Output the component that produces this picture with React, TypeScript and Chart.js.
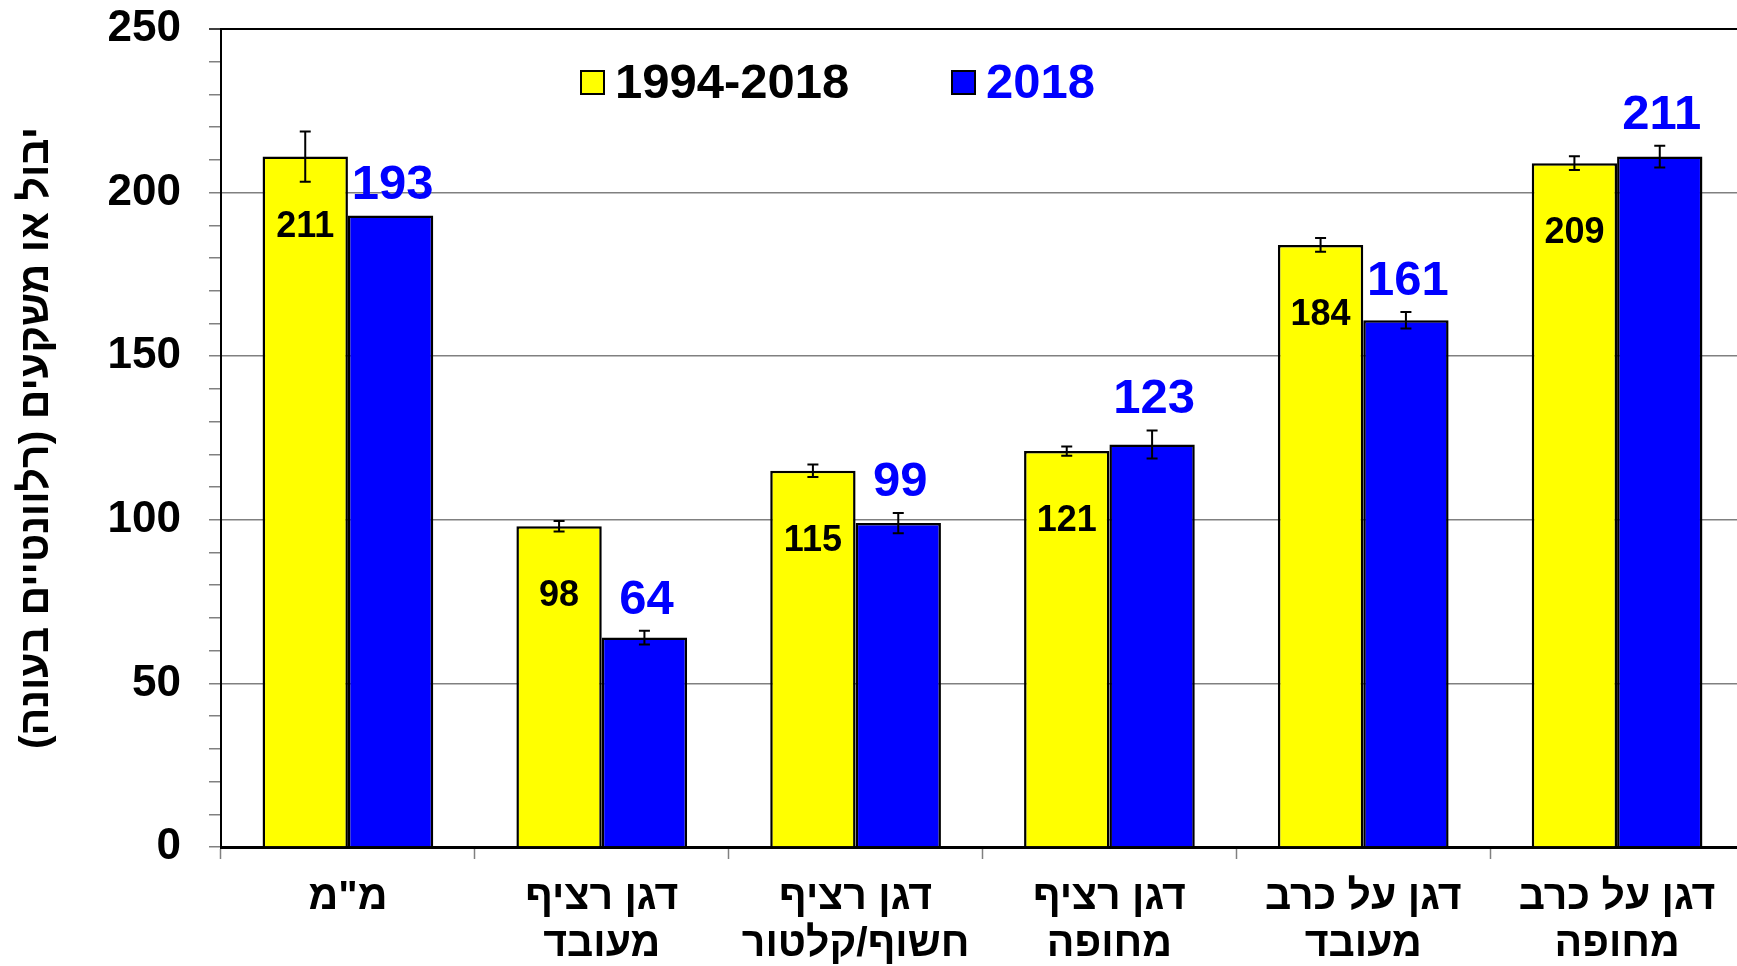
import React, { useEffect, useRef } from "react";
import { Chart, registerables } from "chart.js";

Chart.register(...registerables);

// ---------- data ----------
const categories: string[][] = [
  ["מ\"מ"],
  ["דגן רציף", "מעובד"],
  ["דגן רציף", "חשוף/קלטור"],
  ["דגן רציף", "מחופה"],
  ["דגן על כרב", "מעובד"],
  ["דגן על כרב", "מחופה"],
];
const seriesNames = ["1994-2018", "2018"];
const longTermValues = [211, 98, 115, 121, 184, 209];
const longTermErrors = [7.7, 1.6, 1.9, 1.4, 2.1, 2.1];
const year2018Values = [193, 64, 99, 123, 161, 211];
const year2018Errors = [0, 2.1, 3.1, 4.3, 2.5, 3.3];
const yMin = 0;
const yMax = 250;
const yMinorStep = 10;
const yMajorStep = 50;
const yTitle = "\u200Fיבול או משקעים (רלוונטיים בעונה)\u200F";

// ---------- style ----------
const FONT = '"Liberation Sans", Arial, Helvetica, sans-serif';
const YELLOW = "#FFFF00";
const BLUE = "#0000FF";
const GRID = "#808080";

const overlayPlugin = {
  id: "overlay",
  afterDatasetsDraw(chart: any) {
    const ctx: CanvasRenderingContext2D = chart.ctx;
    const ys = chart.scales.y;
    const errs = [longTermErrors, year2018Errors];
    chart.data.datasets.forEach((ds: any, di: number) => {
      const meta = chart.getDatasetMeta(di);
      meta.data.forEach((bar: any, i: number) => {
        const v = ds.data[i] as number;
        const e = errs[di][i];
        ctx.save();
        if (e > 0) {
          const yt = ys.getPixelForValue(v + e);
          const yb = ys.getPixelForValue(v - e);
          ctx.strokeStyle = "#000";
          ctx.lineWidth = 2;
          ctx.beginPath();
          ctx.moveTo(bar.x, yt);
          ctx.lineTo(bar.x, yb);
          ctx.moveTo(bar.x - 5.5, yt);
          ctx.lineTo(bar.x + 5.5, yt);
          ctx.moveTo(bar.x - 5.5, yb);
          ctx.lineTo(bar.x + 5.5, yb);
          ctx.stroke();
        }
        ctx.textAlign = "center";
        if (di === 0) {
          ctx.font = `bold 36px ${FONT}`;
          ctx.fillStyle = "#000";
          ctx.textBaseline = "middle";
          ctx.fillText(String(v), bar.x, bar.y + 70);
        } else {
          ctx.font = `bold 49px ${FONT}`;
          ctx.fillStyle = BLUE;
          ctx.textBaseline = "alphabetic";
          const top = ys.getPixelForValue(v + e);
          ctx.fillText(String(v), bar.x + 2, top - 17);
        }
        ctx.restore();
      });
    });

    // legend inside plot area
    const area = chart.chartArea;
    const ly = area.top + 54;
    const items = [
      { x: area.left + 360, fill: YELLOW, color: "#000", text: seriesNames[0] },
      { x: area.left + 731, fill: BLUE, color: BLUE, text: seriesNames[1] },
    ];
    ctx.save();
    items.forEach((it) => {
      ctx.fillStyle = it.fill;
      ctx.fillRect(it.x, ly - 12, 23, 23);
      ctx.strokeStyle = "#000";
      ctx.lineWidth = 2;
      ctx.strokeRect(it.x, ly - 12, 23, 23);
      ctx.font = `bold 49px ${FONT}`;
      ctx.fillStyle = it.color;
      ctx.textAlign = "left";
      ctx.textBaseline = "middle";
      ctx.fillText(it.text, it.x + 34, ly + 1);
    });
    ctx.restore();
  },
};

export default function App() {
  const ref = useRef<HTMLCanvasElement | null>(null);

  useEffect(() => {
    if (!ref.current) return;
    const chart = new Chart(ref.current, {
      type: "bar",
      data: {
        labels: categories,
        datasets: [
          {
            label: seriesNames[0],
            data: longTermValues,
            backgroundColor: YELLOW,
            borderColor: "#000",
            borderWidth: 2.5,
          },
          {
            label: seriesNames[1],
            data: year2018Values,
            backgroundColor: BLUE,
            borderColor: "#000",
            borderWidth: 2.5,
          },
        ],
      },
      options: {
        responsive: false,
        animation: false,
        layout: { padding: { top: 29, left: 0, right: 8, bottom: 0 } },
        datasets: {
          bar: { categoryPercentage: 0.6725, barPercentage: 1 },
        },
        plugins: {
          legend: { display: false },
          tooltip: { enabled: false },
          title: { display: false },
        },
        scales: {
          x: {
            afterFit: (s: any) => {
              s.height = 119;
              s.paddingLeft = 0;
              s.paddingRight = 0;
            },
            grid: {
              drawOnChartArea: false,
              tickLength: 12,
              tickColor: GRID,
              tickWidth: 1.5,
            },
            border: { color: "#000", width: 3 },
            ticks: {
              color: "#000",
              padding: 16,
              font: { family: FONT, size: 41, weight: "bold", lineHeight: 1.13 },
              autoSkip: false,
              maxRotation: 0,
            },
          },
          y: {
            min: yMin,
            max: yMax,
            afterFit: (s: any) => {
              s.width = 221;
              s.paddingTop = 0;
              s.paddingBottom = 0;
            },
            border: { color: "#000", width: 2 },
            grid: {
              tickLength: 12,
              lineWidth: (c: any) => (c.tick && c.tick.value === yMax ? 2 : 1.5),
              color: (c: any) => {
                const v = c.tick ? c.tick.value : 0;
                if (v === yMax) return "#000";
                if (v % yMajorStep === 0) return GRID;
                return "rgba(0,0,0,0)";
              },
              tickColor: (c: any) => (c.tick && c.tick.value === yMax ? "#000" : GRID),
              tickWidth: 1.5,
            },
            ticks: {
              stepSize: yMinorStep,
              autoSkip: false,
              color: "#000",
              padding: 28,
              font: { family: FONT, size: 44, weight: "bold" },
              callback: (v: any) => (Number(v) % yMajorStep === 0 ? String(v) : ""),
            },
            title: {
              display: true,
              text: yTitle,
              color: "#000",
              font: { family: FONT, size: 41, weight: "bold", lineHeight: 1.2 },
              padding: { top: 12, bottom: 0 },
            },
          },
        },
      },
      plugins: [overlayPlugin],
    });
    return () => chart.destroy();
  }, []);

  return (
    <div
      style={{
        position: "fixed",
        left: 0,
        top: 0,
        width: 1737,
        height: 966,
        overflow: "hidden",
        background: "#fff",
      }}
    >
      <canvas ref={ref} width={1752} height={966} style={{ display: "block" }} />
    </div>
  );
}
